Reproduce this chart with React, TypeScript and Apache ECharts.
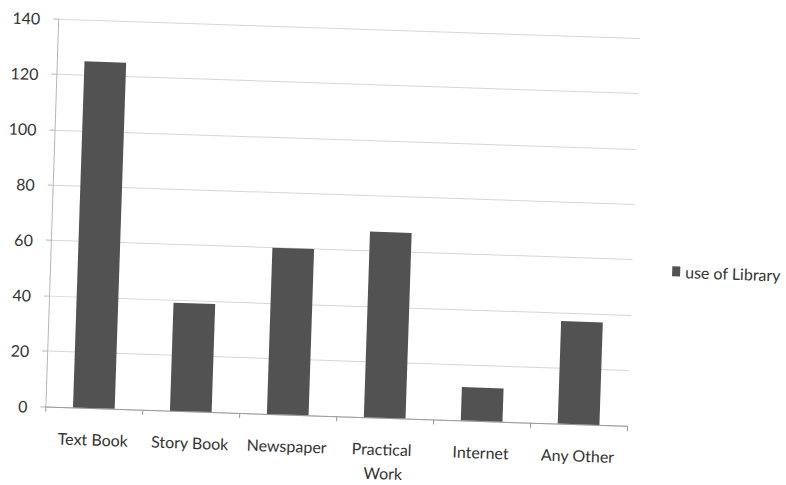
import React, { useEffect, useRef } from "react";
import * as echarts from "echarts";

// Library usage by type of material
const categories = ["Text Book", "Story Book", "Newspaper", "Practical Work", "Internet", "Any Other"];
const libraryUse = [125, 39, 60, 67, 12, 37];
const seriesName = "use of Library";
const yMin = 0;
const yMax = 140;
const yStep = 20;

export default function App() {
  const ref = useRef<HTMLDivElement>(null);

  useEffect(() => {
    if (!ref.current) return;
    const chart = echarts.init(ref.current, null, { renderer: "svg" });
    const font = "Lato, 'Noto Sans', sans-serif";
    chart.setOption({
      animation: false,
      backgroundColor: "#ffffff",
      textStyle: { fontFamily: font },
      grid: {
        left: 51,
        right: 153,
        top: 30,
        bottom: 67,
        containLabel: false,
        outerBoundsMode: "none",
      },
      legend: {
        data: [seriesName],
        left: 668,
        top: 249,
        orient: "vertical",
        icon: "rect",
        itemWidth: 8,
        itemHeight: 10,
        itemGap: 6,
        textStyle: { fontFamily: font, fontSize: 16, color: "#333" },
      },
      xAxis: {
        type: "category",
        data: categories,
        axisLine: { show: true, lineStyle: { color: "#9a9a9a", width: 1 } },
        axisTick: { show: true, length: 5, lineStyle: { color: "#9a9a9a" } },
        axisLabel: {
          fontFamily: font,
          fontSize: 16,
          color: "#333",
          margin: 19,
          width: 90,
          overflow: "break",
          lineHeight: 24,
          interval: 0,
        },
      },
      yAxis: {
        type: "value",
        min: yMin,
        max: yMax,
        interval: yStep,
        axisLine: { show: true, lineStyle: { color: "#b5b5b5", width: 1 } },
        axisTick: { show: true, length: 5, lineStyle: { color: "#b5b5b5" } },
        axisLabel: { fontFamily: font, fontSize: 16, color: "#333", margin: 18 },
        splitLine: { show: true, lineStyle: { color: "#d6d6d6", width: 1 } },
      },
      series: [
        {
          name: seriesName,
          type: "bar",
          data: libraryUse,
          barCategoryGap: "57%",
          itemStyle: { color: "#525252" },
        },
      ],
    });
    return () => chart.dispose();
  }, []);

  return (
    <div
      style={{
        position: "fixed",
        left: 0,
        top: 0,
        width: 786,
        height: 485,
        overflow: "hidden",
        background: "#ffffff",
      }}
    >
      <div
        ref={ref}
        style={{
          width: 786,
          height: 485,
          transform: "rotate(1.9deg)",
          transformOrigin: "50% 50%",
        }}
      />
    </div>
  );
}
